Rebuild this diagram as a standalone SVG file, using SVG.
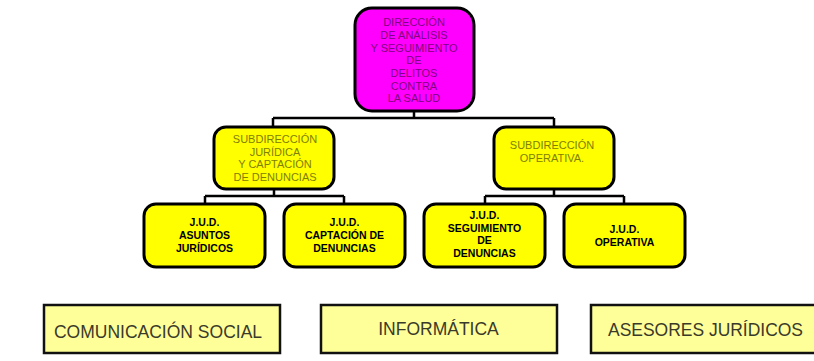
<svg xmlns="http://www.w3.org/2000/svg" width="814" height="361" viewBox="0 0 814 361">
<style>
text{font-family:"Liberation Sans",Arial,sans-serif;text-anchor:middle}
.top{fill:#ff00ff;stroke:#000;stroke-width:3}
.topt{fill:#800080;font-size:11px}
.sub{fill:#ffff00;stroke:#000;stroke-width:3}
.subt{fill:#808000;font-size:11px}
.jud{fill:#ffff00;stroke:#000;stroke-width:3}
.judt{fill:#000;font-size:10.5px;font-weight:bold}
.bot{fill:#ffff99;stroke:#111;stroke-width:2.5}
.bott{fill:#3a3a2a;font-size:17.5px}
.conn{fill:none;stroke:#000;stroke-width:2.5}
</style>
<rect width="814" height="361" fill="#fff"/>
<g id="connectors">
<path class="conn" d="M414 111V118M273 118H554M273 118V126M554 118V126"/>
<path class="conn" d="M274 189V196M205 196H344M205 196V203M344 196V203"/>
<path class="conn" d="M554 189V196M485 196H624M485 196V203M624 196V203"/>
</g>
<g id="direccion">
<rect class="top" x="355" y="8" width="119" height="103" rx="17"/>
<text class="topt" x="414" y="26">DIRECCIÓN</text>
<text class="topt" x="414" y="39">DE ANÁLISIS</text>
<text class="topt" x="414" y="52">Y SEGUIMIENTO</text>
<text class="topt" x="414" y="64">DE</text>
<text class="topt" x="414" y="77">DELITOS</text>
<text class="topt" x="414" y="90">CONTRA</text>
<text class="topt" x="414" y="102">LA SALUD</text>
</g>
<g id="sub-juridica">
<rect class="sub" x="214" y="127" width="120" height="62" rx="12"/>
<text class="subt" x="275" y="143">SUBDIRECCIÓN</text>
<text class="subt" x="275" y="156">JURÍDICA</text>
<text class="subt" x="275" y="168">Y CAPTACIÓN</text>
<text class="subt" x="275" y="181">DE DENUNCIAS</text>
</g>
<g id="sub-operativa">
<rect class="sub" x="494" y="127" width="120" height="62" rx="12"/>
<text class="subt" x="552" y="149">SUBDIRECCIÓN</text>
<text class="subt" x="552" y="162">OPERATIVA.</text>
</g>
<g id="jud-asuntos">
<rect class="jud" x="144" y="204" width="121" height="63" rx="12"/>
<text class="judt" x="204.5" y="226">J.U.D.</text>
<text class="judt" x="204.5" y="239">ASUNTOS</text>
<text class="judt" x="204.5" y="252">JURÍDICOS</text>
</g>
<g id="jud-captacion">
<rect class="jud" x="284" y="204" width="121" height="63" rx="12"/>
<text class="judt" x="344.5" y="226">J.U.D.</text>
<text class="judt" x="344.5" y="239">CAPTACIÓN DE</text>
<text class="judt" x="344.5" y="252">DENUNCIAS</text>
</g>
<g id="jud-seguimiento">
<rect class="jud" x="424" y="204" width="121" height="63" rx="12"/>
<text class="judt" x="484.5" y="219">J.U.D.</text>
<text class="judt" x="484.5" y="232">SEGUIMIENTO</text>
<text class="judt" x="484.5" y="244">DE</text>
<text class="judt" x="484.5" y="257">DENUNCIAS</text>
</g>
<g id="jud-operativa">
<rect class="jud" x="564" y="204" width="121" height="63" rx="12"/>
<text class="judt" x="624.5" y="233">J.U.D.</text>
<text class="judt" x="624.5" y="246">OPERATIVA</text>
</g>
<g id="comunicacion">
<rect class="bot" x="44" y="305" width="236" height="48"/>
<text class="bott" x="158" y="338">COMUNICACIÓN SOCIAL</text>
</g>
<g id="informatica">
<rect class="bot" x="321" y="305" width="236" height="48"/>
<text class="bott" x="438.5" y="335">INFORMÁTICA</text>
</g>
<g id="asesores">
<rect class="bot" x="591" y="305" width="236" height="48"/>
<text class="bott" x="705.5" y="336" textLength="195" lengthAdjust="spacingAndGlyphs">ASESORES JURÍDICOS</text>
</g>
</svg>
